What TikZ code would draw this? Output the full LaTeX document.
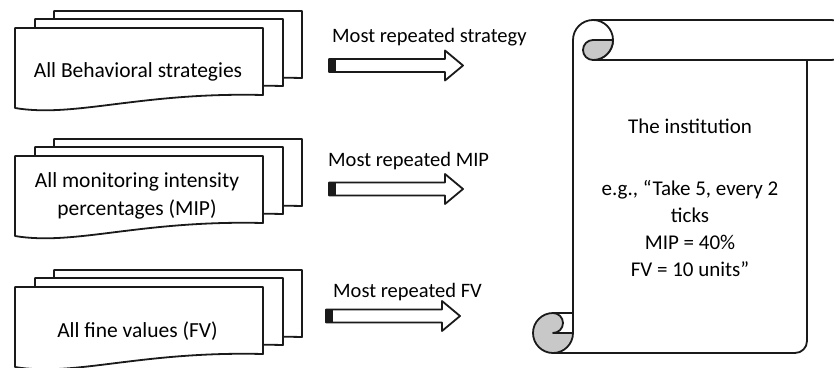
\documentclass[tikz,border=0pt]{standalone}
\usepackage{fontspec}
\setmainfont{Carlito}
\definecolor{ink}{HTML}{1A1A1A}
\definecolor{rollgray}{HTML}{C8C8C8}
\tikzset{
  outline/.style={draw=ink, line width=1.8pt, line join=round},
  doctext/.style={font=\fontsize{21.5}{28}\selectfont, align=center, inner sep=0pt, text=black},
  lbl/.style={font=\fontsize{20.5}{26}\selectfont, inner sep=0pt, anchor=base west, text=black},
  scrolltext/.style={font=\fontsize{21}{27}\selectfont, align=center, inner sep=0pt, text=black},
  pics/multidoc/.style={code={
    \foreach \dx/\dy in {39/-17,20/-9,0/0}{
      \filldraw[outline, fill=white, shift={(\dx,\dy)}] (0,0) -- (248,0) -- (248,67)
        .. controls (125,64) and (60,90) .. (0,80) -- cycle;
    }}},
  pics/blockarrow/.style={code={
    \fill[ink] (0,-6.5) rectangle (7,6.5);
    \draw[outline] (0,-6.5) -- (116,-6.5) -- (116,-15) -- (134,0) -- (116,15) -- (116,6.5) -- (0,6.5) -- cycle;
  }}
}
\begin{document}
\begin{tikzpicture}[x=1pt,y=-1pt]
\useasboundingbox (0,0) rectangle (834,367);
% document stacks
\pic at (15,28) {multidoc};
\pic at (15,156) {multidoc};
\pic at (15,287) {multidoc};
\node[doctext, anchor=base] (t1) at (138,77) {All Behavioral strategies};
\node[doctext] (t2) at (137,195.5) {All monitoring intensity\\percentages (MIP)};
\node[doctext, anchor=base] (t3) at (137.5,337) {All fine values (FV)};
% arrows and labels
\pic at (329,65.5) {blockarrow};
\pic at (329,189) {blockarrow};
\pic at (326,316) {blockarrow};
\node[lbl] (l1) at (332,42) {Most repeated strategy};
\node[lbl] (l2) at (328,166) {Most repeated MIP};
\node[lbl] (l3) at (333,297) {Most repeated FV};
% scroll
\draw[outline] (593,20) -- (831,20) arc[start angle=-90, end angle=90, radius=20] -- (593,60);
\draw[outline] (573,40) arc[start angle=180, end angle=450, radius=20];
\filldraw[outline, fill=rollgray] (613,40) -- (593,40) arc[start angle=-90, end angle=-270, radius=10]
  arc[start angle=90, end angle=0, radius=20] -- cycle;
\draw[outline] (573,40) -- (573,333);
\draw[outline] (807,60) -- (807,341) arc[start angle=0, end angle=90, radius=12] -- (553,353);
\filldraw[outline, fill=rollgray] (553,313) arc[start angle=-90, end angle=-360, radius=20]
  -- (553,333) arc[start angle=90, end angle=-90, radius=10] -- cycle;
\draw[outline] (553,313) -- (573,313);
\node[scrolltext, anchor=north] (inst) at (690,119) {The institution\\[35pt]e.g., “Take 5, every 2\\ticks\\MIP = 40\%\\FV = 10 units”};
\end{tikzpicture}
\end{document}
